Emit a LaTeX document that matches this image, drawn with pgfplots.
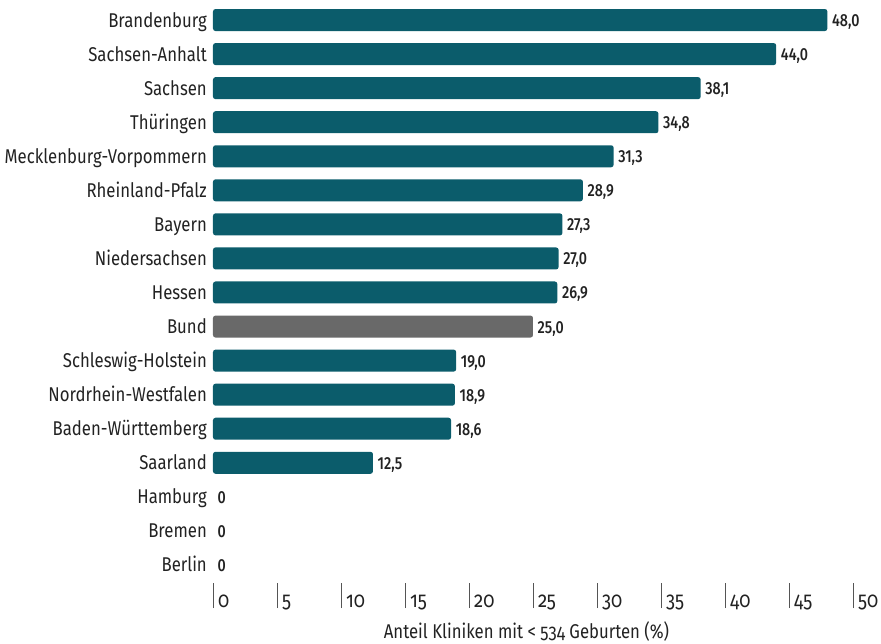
\documentclass[border=0pt]{standalone}
\usepackage{pgfplots}
\pgfplotsset{compat=1.18}
\usepackage{pgfplotstable}
\usepackage{fontspec}
\setmainfont[Numbers=OldStyle, FakeStretch=0.84]{Fira Sans}
\newfontfamily\valfont[FakeStretch=0.82]{Fira Sans Medium}
\definecolor{barteal}{HTML}{0B5C6B}
\definecolor{bargray}{HTML}{696969}
\definecolor{txt}{HTML}{222222}
\definecolor{tickc}{HTML}{555555}

\pgfplotstableread{
y x lab
16 48.0 48,0
15 44.0 44,0
14 38.1 38,1
13 34.8 34,8
12 31.3 31,3
11 28.9 28,9
10 27.3 27,3
9 27.0 27,0
8 26.9 26,9
6 19.0 19,0
5 18.9 18,9
4 18.6 18,6
3 12.5 12,5
}\states
\pgfplotstableread{
y x lab
7 25.0 25,0
}\bund
\pgfplotstableread{
y x lab
2 0 0
1 0 0
0 0 0
}\zeros

\begin{document}
\begin{tikzpicture}
\begin{axis}[
  scale only axis, width=640bp, height=579bp,
  xmin=0, xmax=50, ymin=-0.5, ymax=16.5,
  axis line style={draw=none},
  major tick length=0pt,
  clip=false,
  xbar, bar width=22bp, bar shift=0pt,
  ytick={0,...,16},
  yticklabels={Berlin,Bremen,Hamburg,Saarland,Baden-Württemberg,Nordrhein-Westfalen,Schleswig-Holstein,Bund,Hessen,Niedersachsen,Bayern,Rheinland-Pfalz,Mecklenburg-Vorpommern,Thüringen,Sachsen,Sachsen-Anhalt,Brandenburg},
  yticklabel style={anchor=base east, inner sep=0pt, xshift=-6bp, yshift=-7bp, font=\fontsize{20}{24}\selectfont, text=txt},
  xtick={0,5,...,50},
  /pgf/number format/assume math mode=true,
  xticklabel={\rlap{\color{tickc}\rule[-1bp]{1bp}{25bp}}\hspace{5bp}\pgfmathprintnumber{\tick}},
  xticklabel style={anchor=base west, inner sep=0pt, yshift=-25bp, font=\fontsize{22}{26}\selectfont, text=txt},
  point meta=explicit symbolic,
  nodes near coords,
  nodes near coords style={anchor=base west, inner sep=0pt, xshift=4.5bp, yshift=-6.5bp, font=\valfont\fontsize{17.5}{21}\selectfont, text=txt},
]
\addplot[fill=barteal, draw=none, rounded corners=2.5bp] table[x=x, y=y, meta=lab] {\states};
\addplot[fill=bargray, draw=none, rounded corners=2.5bp] table[x=x, y=y, meta=lab] {\bund};
\addplot[fill=none, draw=none] table[x=x, y=y, meta=lab] {\zeros};
\coordinate (O) at (rel axis cs:0,0);
\end{axis}
\node[anchor=base, inner sep=0pt, font=\fontsize{20}{24}\selectfont, text=txt] at ([shift={(313.5bp,-56bp)}]O) {Anteil Kliniken mit < 534 Geburten (\%)};
\pgfresetboundingbox
\path ([shift={(-213bp,582bp)}]O) rectangle ([shift={(668bp,-62bp)}]O);
\end{tikzpicture}
\end{document}
